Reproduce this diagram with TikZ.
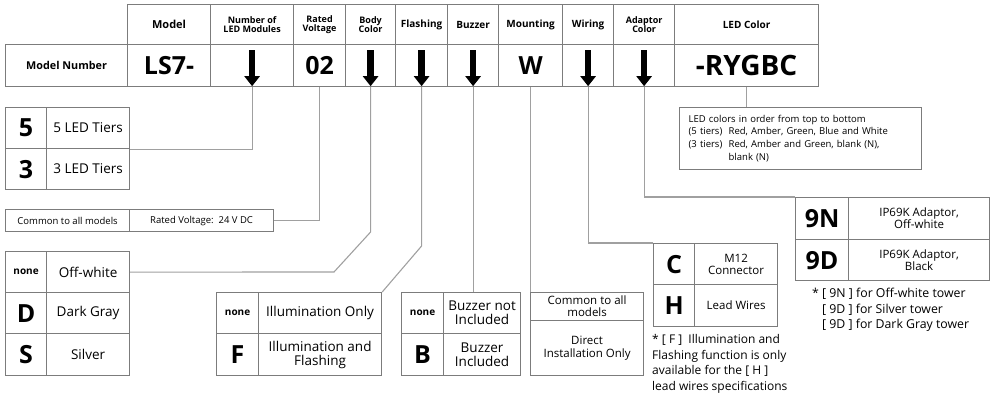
\documentclass[tikz,border=0pt]{standalone}
\usepackage{fontspec}
\setmainfont{Open Sans}
\usetikzlibrary{arrows.meta}
\definecolor{tabline}{HTML}{7C7C7C}
\definecolor{linkline}{HTML}{A0A0A0}
\tikzset{
  cell/.style={draw=tabline, line width=1.2pt, inner sep=0pt, anchor=north west, align=center},
  hdr/.style={cell, minimum height=40pt, font=\bfseries\fontsize{11}{11.5}\selectfont},
  hdrtwo/.style={hdr, font=\bfseries\fontsize{9}{9}\selectfont},
  code/.style={cell, minimum height=42pt, font=\bfseries\fontsize{25}{25}\selectfont},
  key/.style={cell, font=\bfseries\fontsize{25}{25}\selectfont},
  keynone/.style={cell, font=\bfseries\fontsize{10}{11}\selectfont},
  desc/.style={cell, font=\fontsize{13.5}{14}\selectfont},
  small/.style={cell, font=\fontsize{9.5}{11}\selectfont},
  note/.style={inner sep=0pt, anchor=north west, align=left},
  conn/.style={draw=linkline, line width=1.1pt},
  pointer/.style={line width=6.5pt, -{Triangle[width=15pt,length=10pt]}}
}
\begin{document}
\begin{tikzpicture}[x=1pt,y=-1pt]
\useasboundingbox (0,0) rectangle (990,399);
%% header row
\node[hdr, minimum width=83pt] (hModel) at (127,4) {Model};
\node[hdrtwo, minimum width=83pt] (hLeds) at (210,4) {Number of\\LED Modules};
\node[hdrtwo, minimum width=52pt] (hVolt) at (293,4) {Rated\\Voltage};
\node[hdrtwo, minimum width=50pt] (hBody) at (345,4) {Body\\Color};
\node[hdr, minimum width=52pt, font=\bfseries\fontsize{10}{10.5}\selectfont] (hFlash) at (395,4) {Flashing};
\node[hdr, minimum width=51pt, font=\bfseries\fontsize{10}{10.5}\selectfont] (hBuzz) at (447,4) {Buzzer};
\node[hdr, minimum width=64pt, font=\bfseries\fontsize{10}{10.5}\selectfont] (hMount) at (498,4) {Mounting};
\node[hdr, minimum width=51pt, font=\bfseries\fontsize{10}{10.5}\selectfont] (hWire) at (562,4) {Wiring};
\node[hdrtwo, minimum width=61pt] (hAdapt) at (613,4) {Adaptor\\Color};
\node[hdr, minimum width=144pt, font=\bfseries\fontsize{10}{10.5}\selectfont] (hLed) at (674,4) {LED Color};
%% model number row
\node[code, minimum width=122pt, font=\bfseries\fontsize{10.8}{12}\selectfont] (rName) at (5,44) {Model Number};
\node[code, minimum width=83pt] (rModel) at (127,44) {LS7-};
\node[code, minimum width=83pt] (rLeds) at (210,44) {};
\node[code, minimum width=52pt] (rVolt) at (293,44) {02};
\node[code, minimum width=50pt] (rBody) at (345,44) {};
\node[code, minimum width=52pt] (rFlash) at (395,44) {};
\node[code, minimum width=51pt] (rBuzz) at (447,44) {};
\node[code, minimum width=64pt] (rMount) at (498,44) {W};
\node[code, minimum width=51pt] (rWire) at (562,44) {};
\node[code, minimum width=61pt] (rAdapt) at (613,44) {};
\node[code, minimum width=144pt, font=\bfseries\fontsize{28}{28}\selectfont] (rLed) at (674,44) {-RYGBC};
\foreach \c in {rLeds,rBody,rFlash,rBuzz,rWire,rAdapt}
  \draw[pointer] ([yshift=-6pt]\c.north) -- ([yshift=1pt]\c.south);

%% number of LED modules
\node[key, minimum width=41pt, minimum height=41pt] (k5) at (5,107) {5};
\node[desc, minimum width=83pt, minimum height=41pt] (d5) at (46,107) {5 LED Tiers};
\node[key, minimum width=41pt, minimum height=41pt] (k3) at (5,148) {3};
\node[desc, minimum width=83pt, minimum height=41pt] (d3) at (46,148) {3 LED Tiers};
%% rated voltage
\node[small, minimum width=124pt, minimum height=22pt] (cAll) at (5,209) {Common to all models};
\node[small, minimum width=144pt, minimum height=22pt] (cVolt) at (129,209) {Rated Voltage:\ \ 24 V DC};
%% body color
\node[keynone, minimum width=41pt, minimum height=41pt] (bNone) at (5,251) {none};
\node[desc, minimum width=83pt, minimum height=41pt] (bOff) at (46,251) {Off-white};
\node[key, minimum width=41pt, minimum height=41pt] (bD) at (5,292) {D};
\node[desc, minimum width=83pt, minimum height=41pt] (bDark) at (46,292) {Dark Gray};
\node[key, minimum width=41pt, minimum height=42pt] (bS) at (5,333) {S};
\node[desc, minimum width=83pt, minimum height=42pt] (bSil) at (46,333) {Silver};
%% flashing
\node[keynone, minimum width=42pt, minimum height=41pt] (fNone) at (216,292) {none};
\node[desc, minimum width=123pt, minimum height=41pt] (fOnly) at (258,292) {Illumination Only};
\node[key, minimum width=42pt, minimum height=42pt] (fF) at (216,333) {F};
\node[desc, minimum width=123pt, minimum height=42pt] (fIllu) at (258,333) {Illumination and\\Flashing};
%% buzzer
\node[keynone, minimum width=42pt, minimum height=41pt] (zNone) at (401,292) {none};
\node[desc, minimum width=77pt, minimum height=41pt] (zNot) at (443,292) {Buzzer not\\Included};
\node[key, minimum width=42pt, minimum height=42pt] (zB) at (401,333) {B};
\node[desc, minimum width=77pt, minimum height=42pt] (zInc) at (443,333) {Buzzer\\Included};
%% mounting
\node[desc, minimum width=113pt, minimum height=28pt, font=\fontsize{11.5}{12}\selectfont] (mAll) at (530,292) {Common to all\\models};
\node[desc, minimum width=113pt, minimum height=55pt, font=\fontsize{11.5}{12.5}\selectfont] (mDir) at (530,320) {Direct\\Installation Only};
%% wiring
\node[key, minimum width=41pt, minimum height=41pt] (wC) at (653,243) {C};
\node[desc, minimum width=83pt, minimum height=41pt, font=\fontsize{11.5}{12}\selectfont] (wM12) at (694,243) {M12\\Connector};
\node[key, minimum width=41pt, minimum height=42pt] (wH) at (653,284) {H};
\node[desc, minimum width=83pt, minimum height=42pt, font=\fontsize{11.5}{12}\selectfont] (wLead) at (694,284) {Lead Wires};
\node[note, font=\fontsize{12}{15.7}\selectfont] (wNote) at (652,334) {* [ F ]\ \ Illumination and\\Flashing function is only\\available for the [ H ]\\lead wires specifications};
%% adaptor color
\node[key, minimum width=53pt, minimum height=42pt] (a9N) at (795,197) {9N};
\node[desc, minimum width=141pt, minimum height=42pt, font=\fontsize{11.5}{12}\selectfont] (aOff) at (848,197) {IP69K Adaptor,\\Off-white};
\node[key, minimum width=53pt, minimum height=41pt] (a9D) at (795,239) {9D};
\node[desc, minimum width=141pt, minimum height=41pt, font=\fontsize{11.5}{12}\selectfont] (aBlk) at (848,239) {IP69K Adaptor,\\Black};
\node[note, font=\fontsize{12.3}{15.5}\selectfont] (aNote) at (812,288) {* [ 9N ] for Off-white tower\\\hphantom{* }[ 9D ] for Silver tower\\\hphantom{* }[ 9D ] for Dark Gray tower};
%% LED color
\node[cell, align=left, text width=224pt, inner xsep=9pt, minimum height=62pt, font=\fontsize{9.5}{12.6}\selectfont] (ledNote) at (679,107) {%
  \begin{tabular}{@{}l@{\ \ }l@{}}
  \multicolumn{2}{@{}l@{}}{LED colors in order from top to bottom}\\
  (5 tiers) & Red, Amber, Green, Blue and White\\
  (3 tiers) & Red, Amber and Green, blank (N),\\
   & blank (N)
  \end{tabular}};

%% connectors
\draw[conn] (rLeds.south) |- (d5.south east);
\draw[conn] (rVolt.south) |- (cVolt.east);
\draw[conn] (rBody.south) -- (rBody.south |- 0,232) -- (334,272) -- (bOff.east);
\draw[conn] (rFlash.south) -- (rFlash.south |- 0,246) -- (fOnly.north east);
\draw[conn] (rBuzz.south) -- (rBuzz.south |- zNot.north);
\draw[conn] (rMount.south) -- (rMount.south |- mAll.north);
\draw[conn] (rWire.south) |- (wC.north west);
\draw[conn] (rAdapt.south) |- (a9N.north west);
\draw[conn] (rLed.south) -- (rLed.south |- ledNote.north);
\end{tikzpicture}
\end{document}
